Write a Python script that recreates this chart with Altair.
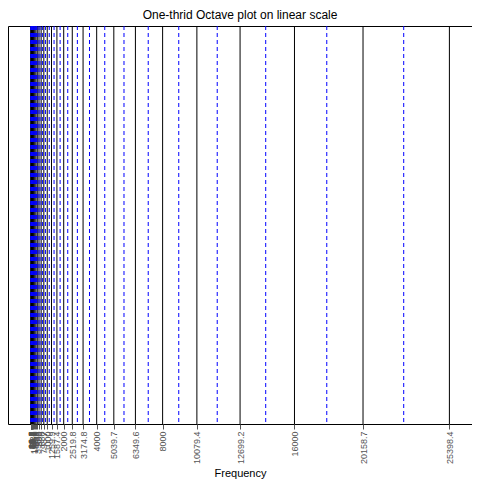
import altair as alt
import pandas as pd

centers = [15.6, 19.7, 24.8, 31.3, 39.4, 49.6, 62.5, 78.7, 99.2, 125, 157.5, 198.4,
           250, 315, 396.9, 500, 630, 793.7, 1000, 1259.9, 1587.4, 2000, 2519.8,
           3174.8, 4000, 5039.7, 6349.6, 8000, 10079.4, 12699.2, 16000, 20158.7, 25398.4]
edges = [17.5, 22.1, 27.8, 35.1, 44.2, 55.7, 70.2, 88.4, 111.4, 140.3, 176.8, 222.7,
         280.6, 353.6, 445.4, 561.2, 707.1, 890.9, 1122.5, 1414.2, 1781.8, 2244.9,
         2828.4, 3563.6, 4489.8, 5656.9, 7127.2, 8979.7, 11313.7, 14254.4, 17959.4, 22627.4]

df = pd.concat([
    pd.DataFrame({"f": centers, "kind": "center"}),
    pd.DataFrame({"f": edges, "kind": "edge"}),
])

x = alt.X("f:Q", title="Frequency",
          scale=alt.Scale(domain=[-1380, 26770], nice=False, zero=False),
          axis=alt.Axis(values=centers, labelAngle=-90, labelExpr="datum.value",
                        labelOverlap=False, grid=False, labelFontSize=9,
                        labelColor="#555", tickColor="#555", domain=False,
                        titleFontWeight="normal", titleFontSize=11))

base = alt.Chart(df)
c = base.transform_filter("datum.kind == 'center'").mark_rule(color="black", strokeWidth=1).encode(x=x)
e = base.transform_filter("datum.kind == 'edge'").mark_rule(color="blue", strokeWidth=1, strokeDash=[4, 3]).encode(x=x)

chart = (c + e).properties(
    width=464, height=398, padding=0,
    title=alt.Title("One-thrid Octave plot on linear scale", fontWeight="normal", fontSize=12),
).configure_view(stroke="black", strokeWidth=1)

chart.save("out.html", embed_options={"renderer": "svg", "actions": False})
